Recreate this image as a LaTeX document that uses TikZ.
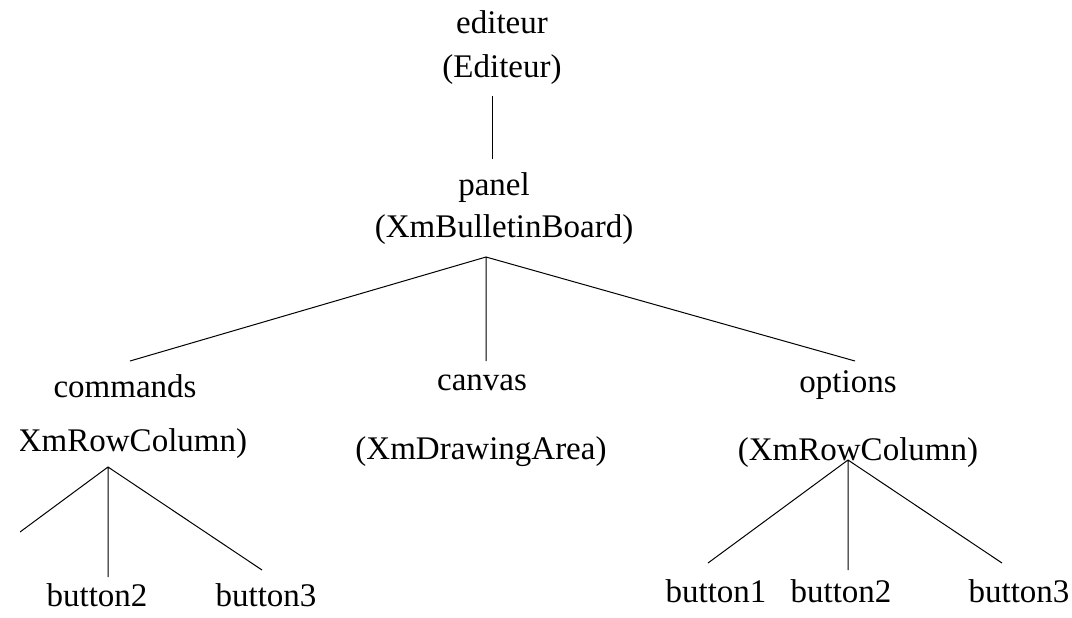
\documentclass[tikz,border=0pt]{standalone}
\usepackage{fontspec}
\setmainfont{Liberation Serif}
\begin{document}
\begin{tikzpicture}[x=0.5pt,y=-0.5pt,
    lbl/.style={anchor=base,inner sep=0pt,font=\fontsize{16.5}{20}\selectfont},
    edge/.style={line width=0.5pt}]
    \useasboundingbox (0,0) rectangle (1072,617);
    \clip (20,0) rectangle (1072,617);
    % widget names and classes
    \node [lbl] (editeur) at (502,33) {editeur};
    \node [lbl] (editeurcl) at (502,77) {(Editeur)};
    \node [lbl] (panel) at (494,195) {panel};
    \node [lbl] (panelcl) at (504,237) {(XmBulletinBoard)};
    \node [lbl] (commands) at (125,397) {commands};
    \node [lbl] (commandscl) at (127,451) {(XmRowColumn)};
    \node [lbl] (canvas) at (482,390) {canvas};
    \node [lbl] (canvascl) at (481,459) {(XmDrawingArea)};
    \node [lbl] (options) at (848,392) {options};
    \node [lbl] (optionscl) at (858,460) {(XmRowColumn)};
    \node [lbl] (cbtwo) at (97,606) {button2};
    \node [lbl] (cbthree) at (266,606) {button3};
    \node [lbl] (obone) at (716,602) {button1};
    \node [lbl] (obtwo) at (841,602) {button2};
    \node [lbl] (obthree) at (1019,602) {button3};
    % line ends
    \coordinate (editeurbot) at (492,96);
    \coordinate (paneltop) at (492,159);
    \coordinate (panelbot) at (486,257);
    \coordinate (commandstop) at (130,361);
    \coordinate (canvastop) at (486,361);
    \coordinate (optionstop) at (855,361);
    \coordinate (commandsbot) at (108,467);
    \coordinate (cbonetop) at (20,532);
    \coordinate (cbtwotop) at (108,577);
    \coordinate (cbthreetop) at (262,570);
    \coordinate (optionsbot) at (848,460);
    \coordinate (obonetop) at (708,563);
    \coordinate (obtwotop) at (848,570);
    \coordinate (obthreetop) at (1002,563);
    \draw [edge] (editeurbot) -- (paneltop);
    \draw [edge] (commandstop) -- (panelbot) -- (optionstop) (panelbot) -- (canvastop);
    \draw [edge] (cbonetop) -- (commandsbot) -- (cbthreetop) (commandsbot) -- (cbtwotop);
    \draw [edge] (obonetop) -- (optionsbot) -- (obthreetop) (optionsbot) -- (obtwotop);
\end{tikzpicture}
\end{document}
